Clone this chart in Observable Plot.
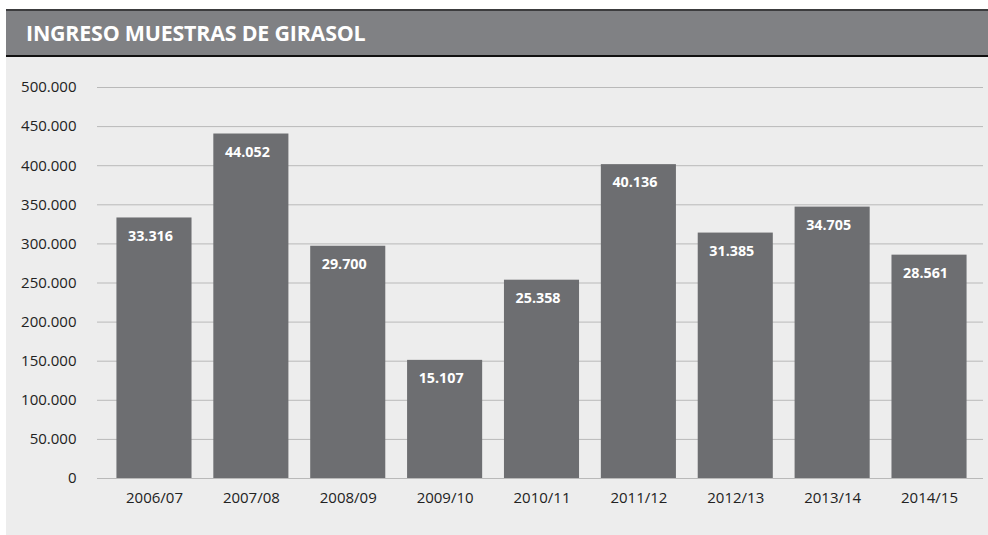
<!DOCTYPE html>
<html>
<head>
<meta charset="utf-8">
<script src="https://cdn.jsdelivr.net/npm/d3@7"></script>
<script src="https://cdn.jsdelivr.net/npm/@observablehq/plot@0.6"></script>
<style>
  html, body { margin: 0; padding: 0; background: #ffffff; }
  #wrap { position: relative; width: 988px; height: 535px; overflow: hidden; font-family: "Open Sans", sans-serif; }
  #header { position: absolute; left: 6px; top: 9px; width: 982px; height: 44px; background: #808184;
            border-top: 2px solid #3c3c3e; border-bottom: 2px solid #111; box-sizing: content-box; }
  #header h1 { margin: 0; position: absolute; left: 20px; top: 9px; font-size: 21.4px; font-weight: 700; color: #ffffff; letter-spacing: -0.2px; line-height: 26px; }
  #panel { position: absolute; left: 6px; top: 57px; width: 982px; height: 478px; background: #ededed; }
</style>
</head>
<body>
<div id="wrap">
  <div id="header"><h1>INGRESO MUESTRAS DE GIRASOL</h1></div>
  <div id="panel"></div>
</div>
<script>
const campaigns = ["2006/07","2007/08","2008/09","2009/10","2010/11","2011/12","2012/13","2013/14","2014/15"];
const values = [333160, 440520, 297000, 151070, 253580, 401360, 313850, 347050, 285610];
const labels = ["33.316","44.052","29.700","15.107","25.358","40.136","31.385","34.705","28.561"];
const yTicks = [0, 50000, 100000, 150000, 200000, 250000, 300000, 350000, 400000, 450000, 500000];

const data = campaigns.map((c, i) => ({campaign: c, value: values[i], label: labels[i]}));
const es = d3.formatLocale({decimal: ",", thousands: ".", grouping: [3], currency: ["", "€"]});
const fmt = es.format(",d");

const chart = Plot.plot({
  width: 982,
  height: 478,
  marginLeft: 91,
  marginRight: 5,
  marginTop: 30,
  marginBottom: 57,
  style: {background: "transparent", fontFamily: "Open Sans, sans-serif", fontSize: "15px", color: "#222"},
  x: {domain: campaigns, paddingInner: 0.225, paddingOuter: 0.18, insetLeft: 2, insetRight: -1, round: false, label: null},
  y: {domain: [0, 500000], ticks: yTicks, tickFormat: fmt, label: null},
  marks: [
    Plot.ruleY(yTicks, {stroke: "#b9b9b9", strokeWidth: 1}),
    Plot.barY(data, {x: "campaign", y: "value", fill: "#6d6e71"}),
    Plot.text(data, {x: "campaign", y: "value", text: "label", dy: 18, dx: -4, fill: "#ffffff", fontWeight: 700, fontSize: 14.3}),
    Plot.axisX({tickSize: 0, tickPadding: 14, fontSize: 15, label: null}),
    Plot.axisY({ticks: yTicks, tickFormat: fmt, tickSize: 0, tickPadding: 21, fontSize: 15, label: null})
  ]
});
document.getElementById("panel").appendChild(chart);
</script>
</body>
</html>
